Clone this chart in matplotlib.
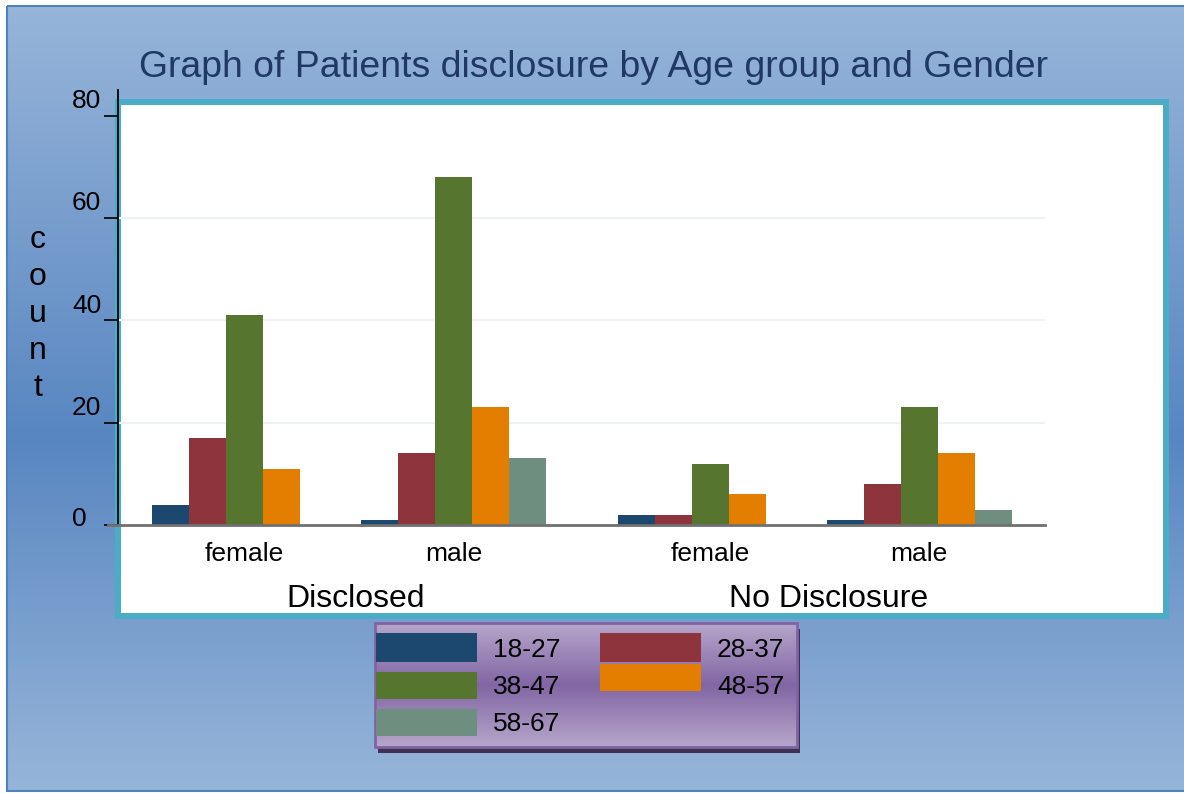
import numpy as np
import matplotlib
matplotlib.use("Agg")
import matplotlib.pyplot as plt
from matplotlib.patches import Rectangle
from matplotlib.colors import LinearSegmentedColormap
from matplotlib.transforms import blended_transform_factory, ScaledTranslation

plt.rcParams['font.family'] = ['Liberation Sans', 'DejaVu Sans']

# ---------------- data ----------------
title = "Graph of Patients disclosure by Age group and Gender"
ylabel = "count"
age_groups = ['18-27', '28-37', '38-47', '48-57', '58-67']
genders = ['female', 'male', 'female', 'male']
disclosure = ['Disclosed', 'No Disclosure']
# values per age group, for clusters: Disclosed/female, Disclosed/male, NoDisc/female, NoDisc/male
v_18_27 = [4, 1, 2, 1]
v_28_37 = [17, 14, 2, 8]
v_38_47 = [41, 68, 12, 23]
v_48_57 = [11, 23, 6, 14]
v_58_67 = [0, 13, 0, 3]
yticks = [0, 20, 40, 60, 80]

series_values = [v_18_27, v_28_37, v_38_47, v_48_57, v_58_67]
colors = ['#1c4870', '#8e343c', '#56752f', '#e47e00', '#6e8e80']

# ---------------- layout ----------------
W, H = 1184, 793
fig = plt.figure(figsize=(W / 100, H / 100), dpi=100)
fig.patch.set_facecolor('white')

bg = fig.add_axes([0, 0, 1, 1], zorder=0)
bg.set_xlim(0, W)
bg.set_ylim(H, 0)
bg.axis('off')

def vgrad(stops):
    return LinearSegmentedColormap.from_list('g', stops)

# background gradient
bgc = vgrad([(0.0, '#97b5d9'), (0.55, '#5886c1'), (1.0, '#97b5d9')])
grad = np.linspace(0, 1, 256).reshape(-1, 1)
bg.imshow(grad, cmap=bgc, aspect='auto', extent=(7, W, 791, 6), zorder=0)
bg.add_patch(Rectangle((7, 6), W - 7 + 5, 785, fill=False, ec='#4f81bd', lw=1.5, zorder=1))

# panel with cyan border
bg.add_patch(Rectangle((115, 99), 1169 - 115, 619 - 99, fc='#4bacc6', ec='none', zorder=2))
bg.add_patch(Rectangle((121, 105), 1163 - 121, 613 - 105, fc='white', ec='none', zorder=3))

# title
bg.text(593.5, 77, title, ha='center', va='baseline', fontsize=26.9, color='#1f3864', zorder=5)

# y label letters
for i, ch in enumerate(ylabel):
    bg.text(38, 248 + i * 37, ch, ha='center', va='baseline', fontsize=23, color='black', zorder=5)

# legend
lx0, ly0, lx1, ly1 = 375, 623, 797, 747
bg.add_patch(Rectangle((lx0 + 3, ly0 + 6), lx1 - lx0, ly1 - ly0, fc='#3f3151', ec='none', zorder=4))
lgc = vgrad([(0.0, '#b6a6cb'), (0.5, '#8266a4'), (1.0, '#b6a6cb')])
bg.imshow(grad, cmap=lgc, aspect='auto', extent=(lx0, lx1, ly1, ly0), zorder=5)
bg.add_patch(Rectangle((lx0, ly0), lx1 - lx0, ly1 - ly0, fill=False, ec='#8064a2', lw=2, zorder=6))
patch_pos = [(376, 633, 29), (600, 633, 29), (376, 672, 27), (600, 664, 27), (376, 709, 27)]
text_pos = [(493, 650), (717, 650), (493, 687), (717, 687), (493, 724)]
for name, col, (px, py, ph), (tx, ty) in zip(age_groups, colors, patch_pos, text_pos):
    bg.add_patch(Rectangle((px, py), 101, ph, fc=col, ec='none', zorder=7))
    bg.text(tx, ty, name, ha='left', va='center', fontsize=19, color='black', zorder=7)

# ---------------- main axes ----------------
ax_l, ax_r, ax_t, ax_b = 118, 1045, 90, 525
ax = fig.add_axes([ax_l / W, 1 - ax_b / H, (ax_r - ax_l) / W, (ax_b - ax_t) / H], zorder=2)
ax.patch.set_alpha(0)
ax.set_ylim(0, 85)
ax.set_xlim(-0.92, 24.14)

cluster_start = [0.0, 5.65, 12.59, 18.24]
for si, (vals, col) in enumerate(zip(series_values, colors)):
    xs = [c + si + 0.5 for c in cluster_start]
    ax.bar(xs, vals, width=1.0, color=col, edgecolor='none', zorder=3)

for s in ['top', 'right', 'bottom']:
    ax.spines[s].set_visible(False)
ax.spines['left'].set_color('black')
ax.spines['left'].set_linewidth(1.3)
ax.set_yticks(yticks)
ax.set_yticklabels([])
ax.tick_params(axis='y', length=10, width=1.2, color='black', direction='out')
ax.set_xticks([])
for yv in yticks[1:-1]:
    ax.axhline(yv, color='#edf2f2', lw=1.5, zorder=1)
ax.axhline(0, xmin=-10 / (ax_r - ax_l), xmax=1, color='#707070', lw=2, clip_on=False, zorder=4)

# y tick labels
tb = blended_transform_factory(bg.transData, ax.transData)
for yv in yticks:
    off = 6 if yv == 0 else 14.5
    tr = tb + ScaledTranslation(0, off / 100, fig.dpi_scale_trans)
    ax.text(72, yv, str(yv), transform=tr, ha='left', va='center', fontsize=19, clip_on=False)

# category labels
xb = blended_transform_factory(ax.transData, bg.transData)
for c, g in zip(cluster_start, genders):
    ax.text(c + 2.5, 561, g, transform=xb, ha='center', va='baseline', fontsize=19, clip_on=False)
label_offsets = [5.5, 5.7]
for i, d in enumerate(disclosure):
    c = cluster_start[2 * i]
    ax.text(c + label_offsets[i], 607, d, transform=xb, ha='center', va='baseline', fontsize=23.0, clip_on=False)

fig.savefig('out.png', dpi=100)
